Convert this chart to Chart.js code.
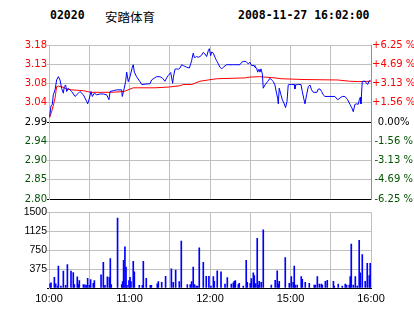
<!DOCTYPE html>
<html>
<head>
<meta charset="utf-8">
<script src="https://cdn.jsdelivr.net/npm/chart.js@4.4.1/dist/chart.umd.min.js"></script>
<style>
  body { margin: 0; background: #fff; }
  #wrap { position: relative; width: 414px; height: 314px; overflow: hidden; background: #fff; }
  .hd { position: absolute; top: 8px; color: #000; white-space: nowrap; line-height: 14px; }
  .mono { font: bold 11.5px "DejaVu Sans Mono", monospace; }
  .cn { font: 12.5px "Noto Sans CJK SC", sans-serif; top: 7px; }
  canvas { position: absolute; left: 0; }
</style>
</head>
<body>
<div id="wrap">
  <div class="hd mono" style="left:50px">02020</div>
  <div class="hd cn" style="left:105px">安踏体育</div>
  <div class="hd mono" style="left:238px">2008-11-27 16:02:00</div>
  <canvas id="priceChart" width="414" height="206" style="top:0"></canvas>
  <canvas id="volChart" width="414" height="108" style="top:206px"></canvas>
</div>
<script>
// previous close and axis labels
const prevClose = 2.99;
const pctSteps = [-6.25, -4.6875, -3.125, -1.5625, 0, 1.5625, 3.125, 4.6875, 6.25];
const priceTicks = ['2.80', '2.85', '2.90', '2.94', '2.99', '3.04', '3.08', '3.13', '3.18'];
const pctTicks = ['-6.25 %', '-4.69 %', '-3.13 %', '-1.56 %', '0.00%', '+1.56 %', '+3.13 %', '+4.69 %', '+6.25 %'];
const volTicks = ['', '375', '750', '1125', '1500'];

// trading minutes: 10:00-12:30, 14:30-16:00
const minuteTicks = [0, 30, 60, 90, 120, 150, 180, 210, 240];
const timeLabels = ['10:00', '', '11:00', '', '12:00', '', '15:00', '', '16:00'];

// price line (minute, price)
const priceMinutes = [0.5, 1.5, 2.5, 3.2, 4.5, 5.7, 7.0, 8.2, 9.4, 10.7, 11.4, 12.4, 13.2, 14.4, 16.9, 19.4, 21.9, 23.1, 25.6, 28.1,
  28.8, 29.8, 31.3, 32.3, 33.8, 35.5, 38.0, 40.5, 43.0, 44.7, 45.5, 48.0, 50.4, 52.9, 54.2, 54.6, 56.1, 57.1, 57.9, 59.1,
  60.4, 62.1, 62.8, 63.6, 65.3, 67.8, 69.1, 75.3, 76.5, 78.2, 80.2, 82.7, 84.7, 86.4, 87.7, 88.9, 90.7, 91.4, 92.2, 92.6,
  93.9, 95.1, 96.4, 97.6, 98.9, 100.1, 102.6, 104.6, 105.6, 106.3, 107.5, 108.3, 109.3, 110.0, 111.3, 112.5, 113.7, 115.0, 116.2, 117.5,
  118.7, 119.5, 120.5, 121.2, 122.5, 123.7, 124.9, 126.2, 127.4, 128.7, 129.9, 132.4, 137.4, 142.3, 143.6, 144.8, 146.8, 148.5, 149.8, 151.0,
  152.8, 153.5, 154.7, 155.5, 156.5, 157.2, 158.0, 159.0, 159.7, 161.0, 162.9, 164.7, 165.9, 167.2, 168.4, 169.6, 170.4, 170.9, 171.6, 172.9,
  173.9, 175.1, 176.3, 177.4, 178.3, 179.1, 180.8, 182.8, 183.3, 183.8, 185.8, 187.8, 188.8, 189.8, 190.8, 192.0, 193.3, 194.5, 195.7, 197.0,
  198.2, 199.7, 200.7, 202.0, 203.2, 204.4, 205.7, 209.4, 213.1, 215.1, 216.8, 218.6, 220.6, 222.6, 224.3, 225.6, 226.8, 228.0, 229.3, 230.5,
  231.3, 232.0, 232.5, 233.5, 234.2, 235.5, 236.7, 237.5, 238.5, 239.5];
const prices = [3.003, 3.029, 3.033, 3.056, 3.068, 3.092, 3.100, 3.092, 3.072, 3.060, 3.076, 3.080, 3.064, 3.072, 3.064, 3.052, 3.060, 3.064, 3.056, 3.040,
  3.034, 3.044, 3.064, 3.052, 3.060, 3.056, 3.058, 3.058, 3.056, 3.044, 3.064, 3.066, 3.068, 3.068, 3.068, 3.052, 3.072, 3.088, 3.111, 3.088,
  3.100, 3.123, 3.129, 3.111, 3.100, 3.088, 3.081, 3.083, 3.092, 3.096, 3.100, 3.100, 3.096, 3.089, 3.097, 3.103, 3.110, 3.097, 3.084, 3.097,
  3.118, 3.119, 3.118, 3.121, 3.129, 3.127, 3.123, 3.121, 3.131, 3.139, 3.157, 3.147, 3.147, 3.149, 3.147, 3.149, 3.152, 3.159, 3.155, 3.149,
  3.163, 3.168, 3.151, 3.160, 3.157, 3.147, 3.139, 3.131, 3.123, 3.119, 3.123, 3.129, 3.129, 3.129, 3.135, 3.137, 3.137, 3.131, 3.135, 3.127,
  3.127, 3.123, 3.121, 3.111, 3.118, 3.111, 3.119, 3.107, 3.072, 3.080, 3.088, 3.096, 3.092, 3.088, 3.080, 3.060, 3.048, 3.034, 3.072, 3.056,
  3.044, 3.036, 3.025, 3.040, 3.080, 3.081, 3.081, 3.081, 3.070, 3.080, 3.081, 3.081, 3.064, 3.048, 3.034, 3.056, 3.076, 3.080, 3.068, 3.062,
  3.062, 3.062, 3.070, 3.070, 3.064, 3.056, 3.052, 3.052, 3.052, 3.044, 3.048, 3.052, 3.052, 3.044, 3.033, 3.025, 3.015, 3.033, 3.034, 3.033,
  3.044, 3.050, 3.034, 3.088, 3.089, 3.089, 3.084, 3.081, 3.089, 3.091];

// average price line
const avgMinutes = [0.5, 2.5, 4.5, 5.7, 7.0, 10.7, 13.2, 16.9, 25.6, 31.3, 46.0, 56.0, 60.4, 62.8, 79.0, 90.0, 97.6, 100.0, 106.3, 112.5,
  118.7, 125.0, 146.0, 150.0, 157.0, 168.4, 172.9, 190.8, 215.0, 224.0, 230.5, 240.0];
const avgPrices = [3.001, 3.021, 3.048, 3.076, 3.077, 3.074, 3.070, 3.068, 3.066, 3.062, 3.062, 3.064, 3.070, 3.073, 3.073, 3.075, 3.078, 3.081, 3.081, 3.089,
  3.092, 3.095, 3.097, 3.099, 3.100, 3.097, 3.095, 3.093, 3.092, 3.089, 3.088, 3.089];

// volume bars (minute, volume)
const volMinutes = [0.8, 1.5, 4.0, 5.0, 6.5, 7.0, 8.9, 10.7, 12.4, 13.7, 16.4, 18.1, 18.9, 21.1, 21.9, 22.6, 25.6, 26.8, 27.8, 28.8,
  30.1, 31.0, 33.0, 33.8, 38.8, 40.5, 41.7, 43.5, 45.0, 45.7, 46.4, 51.1, 54.2, 54.9, 55.6, 56.6, 57.4, 58.1, 59.6, 60.4,
  61.1, 62.8, 63.6, 67.3, 69.6, 70.3, 72.5, 75.5, 76.3, 80.7, 81.5, 84.0, 86.9, 91.2, 92.6, 94.4, 97.1, 98.6, 103.1, 105.3,
  106.3, 107.5, 108.5, 109.8, 110.8, 112.0, 115.0, 117.2, 119.2, 120.7, 122.5, 123.2, 125.4, 128.2, 131.2, 132.9, 135.9, 137.4, 138.1, 138.9,
  141.1, 141.8, 144.8, 147.0, 147.8, 150.0, 150.8, 152.3, 153.0, 154.0, 155.2, 156.0, 156.7, 158.2, 159.7, 165.7, 168.6, 170.1, 170.9, 171.6,
  176.1, 179.1, 180.6, 182.0, 182.8, 183.5, 185.0, 188.0, 188.8, 191.0, 194.0, 197.7, 198.5, 200.0, 201.5, 203.0, 203.7, 206.0, 207.4, 212.0,
  212.6, 215.6, 218.6, 220.8, 221.8, 223.8, 224.5, 225.3, 226.8, 228.3, 229.7, 231.2, 232.0, 233.5, 235.7, 237.2, 238.7, 239.4];
const volumes = [83, 102, 210, 83, 38, 432, 38, 337, 51, 464, 337, 305, 70, 223, 70, 146, 70, 64, 51, 191,
  51, 165, 95, 146, 261, 509, 51, 223, 210, 585, 70, 1386, 70, 127, 547, 814, 413, 51, 146, 210,
  127, 528, 318, 51, 51, 528, 191, 51, 51, 83, 127, 114, 229, 382, 114, 356, 127, 929, 70, 70,
  127, 413, 70, 38, 38, 795, 509, 229, 229, 38, 227, 132, 340, 321, 76, 208, 76, 101, 132, 145,
  69, 95, 38, 548, 113, 95, 189, 302, 246, 88, 983, 57, 132, 113, 1153, 57, 151, 340, 76, 132,
  605, 95, 227, 113, 435, 57, 57, 227, 170, 113, 95, 57, 57, 227, 76, 76, 57, 132, 151, 132,
  38, 76, 38, 76, 57, 57, 227, 869, 57, 227, 38, 945, 302, 661, 132, 491, 246, 491];

const RED = '#ff0000', GREEN = '#005500', GRID = '#c0c0c0';
const pts = (xs, ys) => xs.map((x, i) => ({ x: x, y: ys[i] }));
const levelColor = i => i > 4 ? RED : (i === 4 ? '#000' : GREEN);
const priceLevels = pctSteps.map(p => prevClose * (1 + p / 100));
const setPriceTicks = scale => { scale.ticks = priceLevels.map(v => ({ value: v })); };
const setMinuteTicks = scale => { scale.ticks = minuteTicks.map(v => ({ value: v })); };

const xAxisBase = {
  type: 'linear', min: 0, max: 240, offset: false,
  afterBuildTicks: setMinuteTicks,
  grid: { color: GRID, offset: false, drawTicks: false },
  border: { color: '#000' }
};

new Chart(document.getElementById('priceChart').getContext('2d'), {
  type: 'line',
  data: {
    datasets: [
      { data: pts(priceMinutes, prices), borderColor: '#0000ff', borderWidth: 1, pointRadius: 0, tension: 0 },
      { data: pts(avgMinutes, avgPrices), borderColor: RED, borderWidth: 1, pointRadius: 0, tension: 0 }
    ]
  },
  options: {
    responsive: false, animation: false,
    layout: { padding: { top: 45, bottom: 3 } },
    plugins: { legend: { display: false }, tooltip: { enabled: false } },
    scales: {
      x: Object.assign({}, xAxisBase, {
        ticks: { display: false },
        afterFit: s => { s.height = 0; }
      }),
      y: {
        position: 'left', min: priceLevels[0], max: priceLevels[8],
        afterBuildTicks: setPriceTicks,
        afterFit: s => { s.width = 49; },
        grid: {
          color: c => (c.index === 4 || c.index === 0) ? '#000' : GRID,
          tickLength: 2
        },
        border: { color: GRID },
        ticks: {
          padding: 0,
          font: { family: 'DejaVu Sans', size: 10 },
          color: c => levelColor(c.index),
          callback: (v, i) => priceTicks[i]
        }
      },
      y2: {
        position: 'right', min: priceLevels[0], max: priceLevels[8],
        afterBuildTicks: setPriceTicks,
        afterFit: s => { s.width = 43; },
        grid: { display: false, drawTicks: false },
        border: { color: '#909090' },
        ticks: {
          padding: 1, crossAlign: 'center',
          font: { family: 'DejaVu Sans', size: 10 },
          color: c => levelColor(c.index),
          callback: (v, i) => pctTicks[i]
        }
      }
    }
  }
});

new Chart(document.getElementById('volChart').getContext('2d'), {
  type: 'bar',
  data: {
    datasets: [
      { data: pts(volMinutes, volumes), backgroundColor: '#0000ff', barThickness: 1 }
    ]
  },
  options: {
    responsive: false, animation: false,
    layout: { padding: { top: 3, right: 43 } },
    plugins: { legend: { display: false }, tooltip: { enabled: false } },
    scales: {
      x: Object.assign({}, xAxisBase, {
        afterFit: s => { s.height = 26; },
        ticks: {
          padding: 4, autoSkip: false, maxRotation: 0,
          font: { family: 'Liberation Sans', size: 11 },
          color: '#000',
          callback: v => timeLabels[minuteTicks.indexOf(v)]
        }
      }),
      y: {
        min: 0, max: 1500,
        afterBuildTicks: s => { s.ticks = volTicks.map((t, i) => ({ value: i * 375 })); },
        afterFit: s => { s.width = 49; },
        grid: { color: c => c.index === 0 ? '#000' : GRID, tickLength: 2 },
        border: { color: GRID },
        ticks: {
          padding: 0,
          font: { family: 'Liberation Sans', size: 10.5 },
          color: '#000',
          callback: (v, i) => volTicks[i]
        }
      }
    }
  }
});
</script>
</body>
</html>
